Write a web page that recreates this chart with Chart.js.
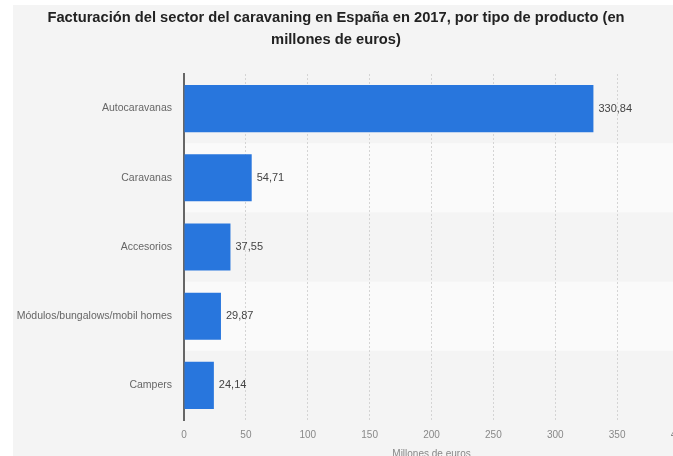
<!DOCTYPE html>
<html>
<head>
<meta charset="utf-8">
<script src="https://cdn.jsdelivr.net/npm/chart.js@4"></script>
<style>
  html, body { margin: 0; padding: 0; background: #fff; overflow: hidden; }
  #wrap { position: absolute; left: 13px; top: 5px; width: 700px; height: 480px; background: #f4f4f4; }
</style>
</head>
<body>
<div id="wrap"><canvas id="chart" width="700" height="480"></canvas></div>
<script>
// categorías y valores (millones de euros)
const categories = ['Autocaravanas', 'Caravanas', 'Accesorios', 'Módulos/bungalows/mobil homes', 'Campers'];
const values = [330.84, 54.71, 37.55, 29.87, 24.14];
const xTicks = [0, 50, 100, 150, 200, 250, 300, 350, 400];
const titleLines = ['Facturación del sector del caravaning en España en 2017, por tipo de producto (en', 'millones de euros)'];

const fmt = v => v.toFixed(2).replace('.', ',');

// franjas alternas detrás de las barras
const bands = {
    id: 'bands',
    beforeDraw(chart) {
        const { ctx, chartArea, scales } = chart;
        const h = (chartArea.bottom - chartArea.top) / categories.length;
        ctx.save();
        categories.forEach((c, i) => {
            if (i % 2 === 1) {
                const y = scales.y.getPixelForValue(i) - h / 2;
                ctx.fillStyle = '#fafafa';
                ctx.fillRect(chartArea.left, y, chartArea.right - chartArea.left, h);
            }
        });
        ctx.restore();
    }
};

// etiquetas de valor al final de cada barra + título centrado en la ventana
const valueLabels = {
    id: 'valueLabels',
    afterDatasetsDraw(chart) {
        const { ctx } = chart;
        const meta = chart.getDatasetMeta(0);
        ctx.save();
        ctx.font = '11px "Liberation Sans"';
        ctx.fillStyle = '#444';
        ctx.textBaseline = 'middle';
        meta.data.forEach((bar, i) => {
            ctx.fillText(fmt(values[i]), bar.x + 5, bar.y);
        });
        ctx.font = 'bold 14.7px "Liberation Sans"';
        ctx.fillStyle = '#222';
        ctx.textAlign = 'center';
        titleLines.forEach((t, i) => ctx.fillText(t, 323, 13 + i * 22));
        ctx.restore();
    }
};

new Chart(document.getElementById('chart').getContext('2d'), {
    type: 'bar',
    data: {
        labels: categories,
        datasets: [{
            data: values,
            backgroundColor: '#2876dd',
            borderWidth: 0,
            categoryPercentage: 0.68,
            barPercentage: 1
        }]
    },
    plugins: [bands, valueLabels],
    options: {
        indexAxis: 'y',
        responsive: false,
        animation: false,
        devicePixelRatio: 1,
        layout: { padding: { left: 0, right: 34, top: 69, bottom: 21 } },
        scales: {
            x: {
                min: 0,
                max: 400,
                afterBuildTicks: s => { s.ticks = xTicks.map(v => ({ value: v })); },
                grid: { color: '#d4d4d4', drawTicks: false },
                border: { display: false, dash: [2, 2] },
                ticks: { color: '#888', font: { family: 'Liberation Sans', size: 10 }, padding: 9 },
                title: {
                    display: true,
                    text: 'Millones de euros',
                    color: '#888',
                    font: { family: 'Liberation Sans', size: 10 },
                    padding: { top: -2, bottom: 4 }
                }
            },
            y: {
                afterFit: s => { s.width = 171; },
                grid: { display: false, drawTicks: false },
                border: { display: true, color: '#666', width: 2 },
                ticks: { color: '#666', font: { family: 'Liberation Sans', size: 10.5 }, padding: 12 }
            }
        },
        plugins: {
            legend: { display: false },
            tooltip: { enabled: false },
            title: { display: false }
        }
    }
});
</script>
</body>
</html>
